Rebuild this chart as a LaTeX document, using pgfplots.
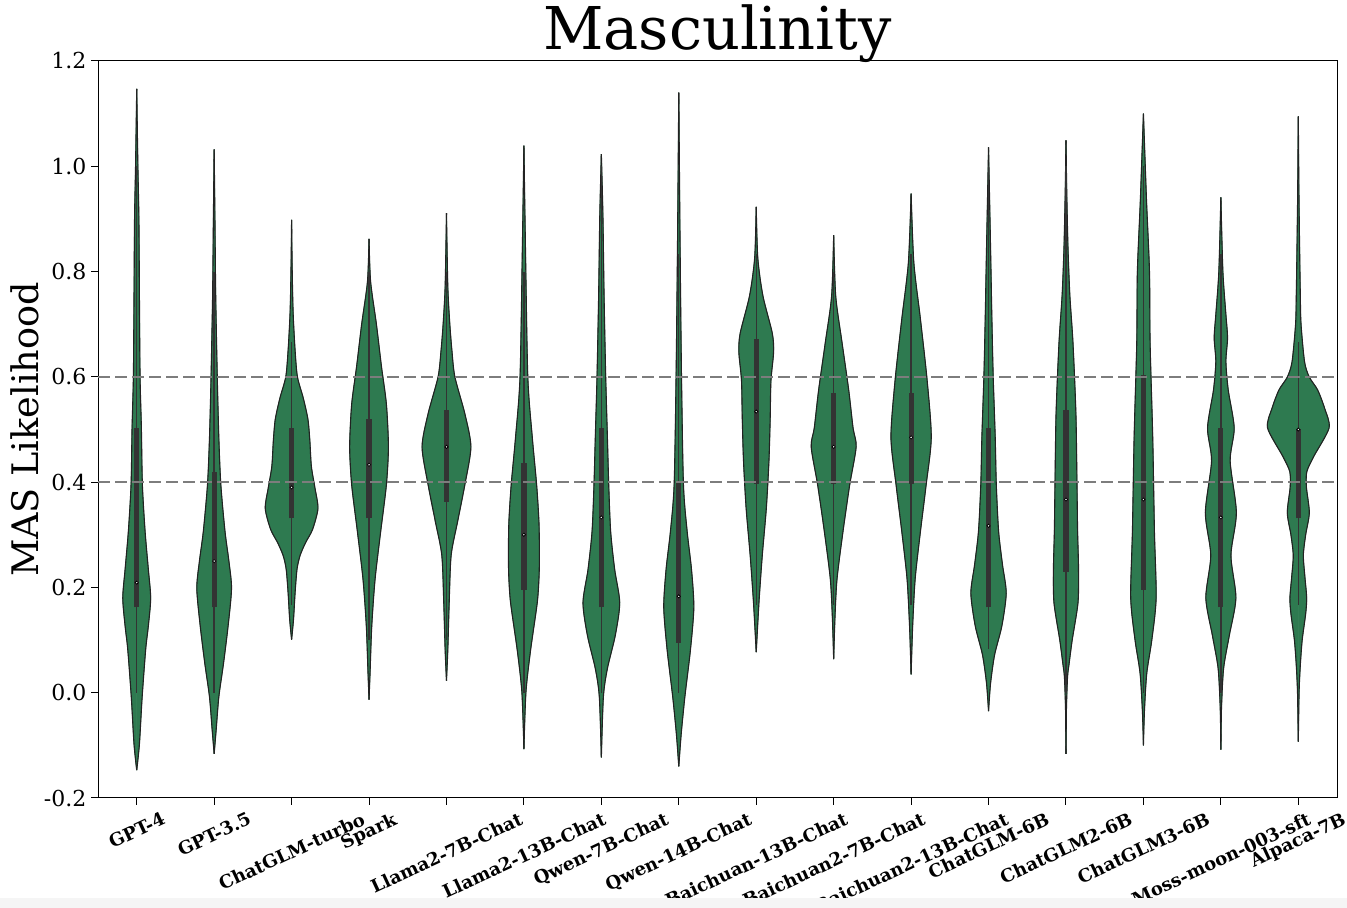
\documentclass[border=0pt]{standalone}
\usepackage{fontspec}
\setmainfont{DejaVu Serif}
\usepackage{graphicx}
\usepackage{pgfplots}
\usepackage{pgfplotstable}
\pgfplotsset{compat=1.18}
\definecolor{vgreen}{RGB}{46,122,80}
\definecolor{boxgray}{RGB}{51,51,51}
\definecolor{edgegray}{RGB}{34,34,34}
\definecolor{dashgray}{RGB}{125,125,125}

% violin profiles: y value, half width (in category units)
\pgfplotstableread{
y w
-0.147 0
-0.097 0.035
-0.008 0.07
0.083 0.116
0.127 0.15
0.18 0.18
0.234 0.15
0.306 0.108
0.395 0.073
0.503 0.06
0.6 0.043
0.75 0.035
0.9 0.028
1.0 0.015
1.147 0
}\vA
\pgfplotstableread{
y w
-0.116 0
-0.07 0.026
-0.008 0.06
0.055 0.12
0.127 0.18
0.198 0.224
0.25 0.19
0.306 0.14
0.395 0.086
0.485 0.06
0.6 0.04
0.754 0.02
0.9 0.01
1.032 0
}\vB
\pgfplotstableread{
y w
0.101 0
0.14 0.025
0.19 0.045
0.235 0.07
0.261 0.11
0.285 0.18
0.31 0.27
0.35 0.34
0.39 0.30
0.43 0.255
0.48 0.235
0.52 0.21
0.56 0.15
0.6 0.075
0.65 0.045
0.72 0.02
0.80 0.008
0.898 0
}\vC
\pgfplotstableread{
y w
-0.013 0
0.037 0.013
0.127 0.035
0.216 0.078
0.306 0.15
0.395 0.224
0.467 0.25
0.548 0.224
0.62 0.16
0.70 0.095
0.781 0.02
0.862 0
}\vD
\pgfplotstableread{
y w
0.023 0
0.081 0.017
0.171 0.035
0.261 0.06
0.324 0.142
0.395 0.237
0.467 0.315
0.53 0.237
0.6 0.108
0.65 0.07
0.70 0.043
0.772 0.017
0.911 0
}\vE
\pgfplotstableread{
y w
-0.107 0
0.001 0.026
0.081 0.086
0.171 0.172
0.22 0.195
0.261 0.2
0.324 0.194
0.395 0.164
0.485 0.108
0.6 0.05
0.844 0.02
1.039 0
}\vF
\pgfplotstableread{
y w
-0.123 0
-0.008 0.026
0.046 0.078
0.109 0.18
0.171 0.237
0.234 0.172
0.306 0.12
0.395 0.095
0.485 0.078
0.6 0.056
0.754 0.035
0.907 0.02
1.023 0
}\vG
\pgfplotstableread{
y w
-0.14 0
-0.08 0.03
-0.008 0.078
0.081 0.15
0.162 0.194
0.234 0.164
0.306 0.108
0.395 0.06
0.6 0.035
0.844 0.017
1.14 0
}\vH
\pgfplotstableread{
y w
0.077 0
0.171 0.035
0.261 0.078
0.35 0.13
0.44 0.164
0.52 0.18
0.593 0.19
0.647 0.224
0.683 0.207
0.754 0.086
0.826 0.02
0.923 0
}\vI
\pgfplotstableread{
y w
0.064 0
0.144 0.017
0.216 0.043
0.306 0.12
0.395 0.207
0.467 0.29
0.503 0.25
0.575 0.194
0.665 0.108
0.754 0.026
0.869 0
}\vJ
\pgfplotstableread{
y w
0.035 0
0.127 0.02
0.216 0.052
0.306 0.12
0.395 0.194
0.485 0.26
0.593 0.207
0.71 0.12
0.817 0.035
0.948 0
}\vK
\pgfplotstableread{
y w
-0.035 0
0.018 0.026
0.072 0.078
0.127 0.172
0.189 0.228
0.243 0.18
0.306 0.13
0.395 0.1
0.485 0.086
0.6 0.06
0.71 0.043
0.844 0.026
1.036 0
}\vL
\pgfplotstableread{
y w
-0.116 0
-0.03 0.006
0.03 0.02
0.055 0.04
0.1 0.08
0.171 0.155
0.234 0.162
0.306 0.15
0.395 0.142
0.53 0.128
0.665 0.09
0.754 0.05
0.844 0.026
0.95 0.01
1.049 0
}\vM
\pgfplotstableread{
y w
-0.1 0
-0.035 0.013
0.037 0.043
0.1 0.108
0.18 0.164
0.306 0.142
0.485 0.12
0.665 0.086
0.8 0.078
0.934 0.04
1.1 0
}\vN
\pgfplotstableread{
y w
-0.108 0
-0.03 0.008
0.046 0.035
0.108 0.108
0.18 0.194
0.261 0.13
0.342 0.2
0.44 0.12
0.503 0.172
0.575 0.095
0.629 0.065
0.674 0.086
0.718 0.065
0.8 0.026
0.941 0
}\vO
\pgfplotstableread{
y w
-0.093 0
0.0 0.01
0.05 0.025
0.1 0.05
0.15 0.095
0.18 0.108
0.22 0.085
0.261 0.065
0.30 0.095
0.342 0.142
0.39 0.105
0.42 0.11
0.449 0.2
0.503 0.397
0.54 0.34
0.575 0.25
0.60 0.14
0.629 0.08
0.7 0.035
0.754 0.026
0.844 0.017
0.95 0.008
1.095 0
}\vP

% #1 pos, #2 table, #3 q1, #4 median, #5 q3, #6 whisker low, #7 whisker high
\newcommand{\violin}[7]{%
  \addplot[fill=vgreen, draw=vgreen, line width=0.4pt, smooth, tension=0.45] table[x expr={#1+\thisrow{w}}, y=y]{#2} -- cycle;
  \addplot[fill=vgreen, draw=vgreen, line width=0.4pt, smooth, tension=0.45] table[x expr={#1-\thisrow{w}}, y=y]{#2} -- cycle;
  \addplot[edgegray, line width=0.55pt, smooth, tension=0.45] table[x expr={#1+\thisrow{w}}, y=y]{#2};
  \addplot[edgegray, line width=0.55pt, smooth, tension=0.45] table[x expr={#1-\thisrow{w}}, y=y]{#2};
  \addplot[boxgray, line width=0.7pt] coordinates {(#1,#6) (#1,#7)};
  \addplot[boxgray, line width=2.6pt] coordinates {(#1,#3) (#1,#5)};
  \addplot[only marks, mark=*, mark size=0.8pt, mark options={draw=none, fill=white}] coordinates {(#1,#4)};
}
\newcommand{\xl}[1]{\rotatebox{25}{#1}}

\begin{document}
\begin{tikzpicture}
\path[use as bounding box] (0,0) rectangle (673.5pt,454pt);
\begin{axis}[
  name=ax,
  at={(49pt,55pt)}, anchor=south west,
  scale only axis, width=619.5pt, height=368.5pt,
  xmin=-0.5, xmax=15.5, ymin=-0.2, ymax=1.2,
  axis line style={line width=0.5pt, black},
  tick align=outside, major tick length=3.3pt,
  tick style={line width=0.5pt, black},
  xtick pos=bottom, ytick pos=left,
  xtick={0,1,2,3,4,5,6,7,8,9,10,11,12,13,14,15},
  xticklabels={\xl{GPT-4},\xl{GPT-3.5},\xl{ChatGLM-turbo},\xl{Spark},\xl{Llama2-7B-Chat},\xl{Llama2-13B-Chat},\xl{Qwen-7B-Chat},\xl{Qwen-14B-Chat},\xl{Baichuan-13B-Chat},\xl{Baichuan2-7B-Chat},\xl{Baichuan2-13B-Chat},\xl{ChatGLM-6B},\xl{ChatGLM2-6B},\xl{ChatGLM3-6B},\xl{Moss-moon-003-sft},\xl{Alpaca-7B}},
  xticklabel style={anchor=north, font=\bfseries\fontsize{9}{10}\selectfont, inner sep=0pt, yshift=-3.3pt},
  ytick={-0.2,0,0.2,0.4,0.6,0.8,1.0,1.2},
  yticklabels={-0.2,0.0,0.2,0.4,0.6,0.8,1.0,1.2},
  yticklabel style={font=\fontsize{11}{12}\selectfont, xshift=1pt},
]
\violin{0}{\vA}{0.162}{0.209}{0.503}{0.0}{1.0}
\violin{1}{\vB}{0.162}{0.25}{0.42}{0.0}{0.8}
\violin{2}{\vC}{0.331}{0.39}{0.503}{0.167}{0.667}
\violin{3}{\vD}{0.331}{0.433}{0.52}{0.1}{0.8}
\violin{4}{\vE}{0.363}{0.467}{0.537}{0.1}{0.8}
\violin{5}{\vF}{0.196}{0.3}{0.436}{0.0}{0.8}
\violin{6}{\vG}{0.162}{0.333}{0.503}{0.0}{1.0}
\violin{7}{\vH}{0.095}{0.183}{0.4}{0.0}{0.833}
\violin{8}{\vI}{0.397}{0.534}{0.671}{0.167}{0.833}
\violin{9}{\vJ}{0.397}{0.467}{0.57}{0.167}{0.8}
\violin{10}{\vK}{0.397}{0.485}{0.57}{0.167}{0.833}
\violin{11}{\vL}{0.162}{0.317}{0.503}{0.083}{1.0}
\violin{12}{\vM}{0.23}{0.367}{0.537}{0.0}{1.0}
\violin{13}{\vN}{0.196}{0.367}{0.604}{0.0}{1.0}
\violin{14}{\vO}{0.162}{0.333}{0.503}{0.0}{0.833}
\violin{15}{\vP}{0.331}{0.5}{0.5}{0.167}{0.667}
\addplot[dashgray, line width=1pt, dash pattern=on 6pt off 2.5pt] coordinates {(-0.5,0.4) (15.5,0.4)};
\addplot[dashgray, line width=1pt, dash pattern=on 6pt off 2.5pt] coordinates {(-0.5,0.6) (15.5,0.6)};
\end{axis}
\node[anchor=base, font=\fontsize{29.5}{35}\selectfont] at ([yshift=5.5pt]ax.north) {Masculinity};
\node[rotate=90, anchor=base, font=\fontsize{18.3}{21}\selectfont] at ([xshift=-30pt]ax.west) {MAS Likelihood};
\fill[black!4] (0,0) rectangle (673.5pt,5pt);
\end{tikzpicture}
\end{document}
